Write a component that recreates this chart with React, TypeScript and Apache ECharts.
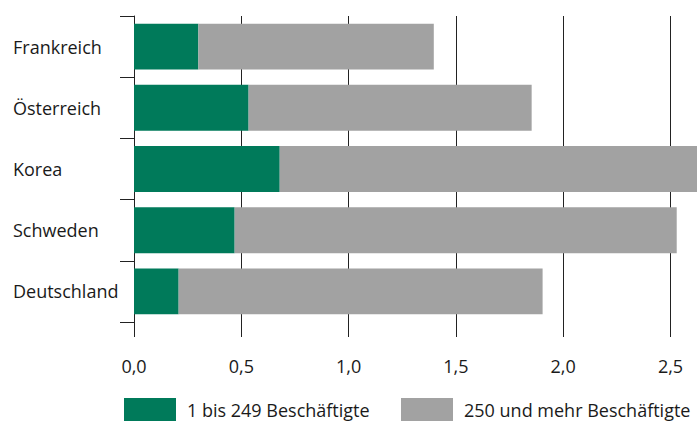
import React, { useEffect, useRef } from "react";
import * as echarts from "echarts";

const categories = ["Frankreich", "Österreich", "Korea", "Schweden", "Deutschland"];
const small = [0.3, 0.534, 0.679, 0.469, 0.208];
const large = [1.097, 1.319, 2.02, 2.06, 1.696];
const seriesNames = ["1 bis 249 Beschäftigte", "250 und mehr Beschäftigte"];
const xTicks = { min: 0, max: 2.8, interval: 0.5 };

const FONT = "'Open Sans', 'Noto Sans', sans-serif";
const GREEN = "#007A5A";
const GRAY = "#A2A2A2";
const FS = 18;

export default function App() {
  const ref = useRef<HTMLDivElement>(null);
  useEffect(() => {
    if (!ref.current) return;
    const chart = echarts.init(ref.current, null, { renderer: "svg" });
    chart.setOption({
      animation: false,
      backgroundColor: "#fff",
      textStyle: { fontFamily: FONT },
      grid: { left: 134, top: 16, width: 2.8 * 214.6, height: 306, containLabel: false },
      legend: [
        {
          data: [seriesNames[0]],
          left: 124,
          top: 398,
          padding: 0,
          itemWidth: 52,
          itemHeight: 23,
          itemGap: 13,
          textStyle: { fontSize: FS, color: "#1a1a1a", fontFamily: FONT, padding: [0, 0, 0, 6] },
          icon: "rect",
        },
        {
          data: [seriesNames[1]],
          left: 401,
          top: 398,
          padding: 0,
          itemWidth: 52,
          itemHeight: 23,
          textStyle: { fontSize: FS, color: "#1a1a1a", fontFamily: FONT, padding: [0, 0, 0, 6] },
          icon: "rect",
        },
      ],
      xAxis: {
        type: "value",
        min: xTicks.min,
        max: xTicks.max,
        interval: xTicks.interval,
        axisLine: { show: false },
        axisTick: { show: true, length: 15, lineStyle: { color: "#222", width: 1 } },
        splitLine: { show: true, lineStyle: { color: "#222", width: 1 } },
        axisLabel: {
          margin: 35,
          fontSize: FS,
          color: "#1a1a1a",
          fontFamily: FONT,
          formatter: (v: number) => (v > 2.6 ? "" : v.toFixed(1).replace(".", ",")),
        },
      },
      yAxis: {
        type: "category",
        data: categories,
        inverse: true,
        axisLine: { show: true, lineStyle: { color: "#222", width: 1 } },
        axisTick: { show: true, length: 14, lineStyle: { color: "#222", width: 1 } },
        axisLabel: {
          align: "left",
          margin: 121,
          fontSize: FS,
          color: "#1a1a1a",
          fontFamily: FONT,
        },
      },
      series: [
        {
          name: seriesNames[0],
          type: "bar",
          stack: "total",
          data: small,
          barWidth: "75%",
          itemStyle: { color: GREEN },
        },
        {
          name: seriesNames[1],
          type: "bar",
          stack: "total",
          data: large,
          barWidth: "75%",
          itemStyle: { color: GRAY },
        },
      ],
    });
    return () => chart.dispose();
  }, []);
  return (
    <div style={{ position: "fixed", left: 0, top: 0, width: 697, height: 421, overflow: "hidden", background: "#fff" }}>
      <div ref={ref} style={{ width: 780, height: 421 }} />
    </div>
  );
}
